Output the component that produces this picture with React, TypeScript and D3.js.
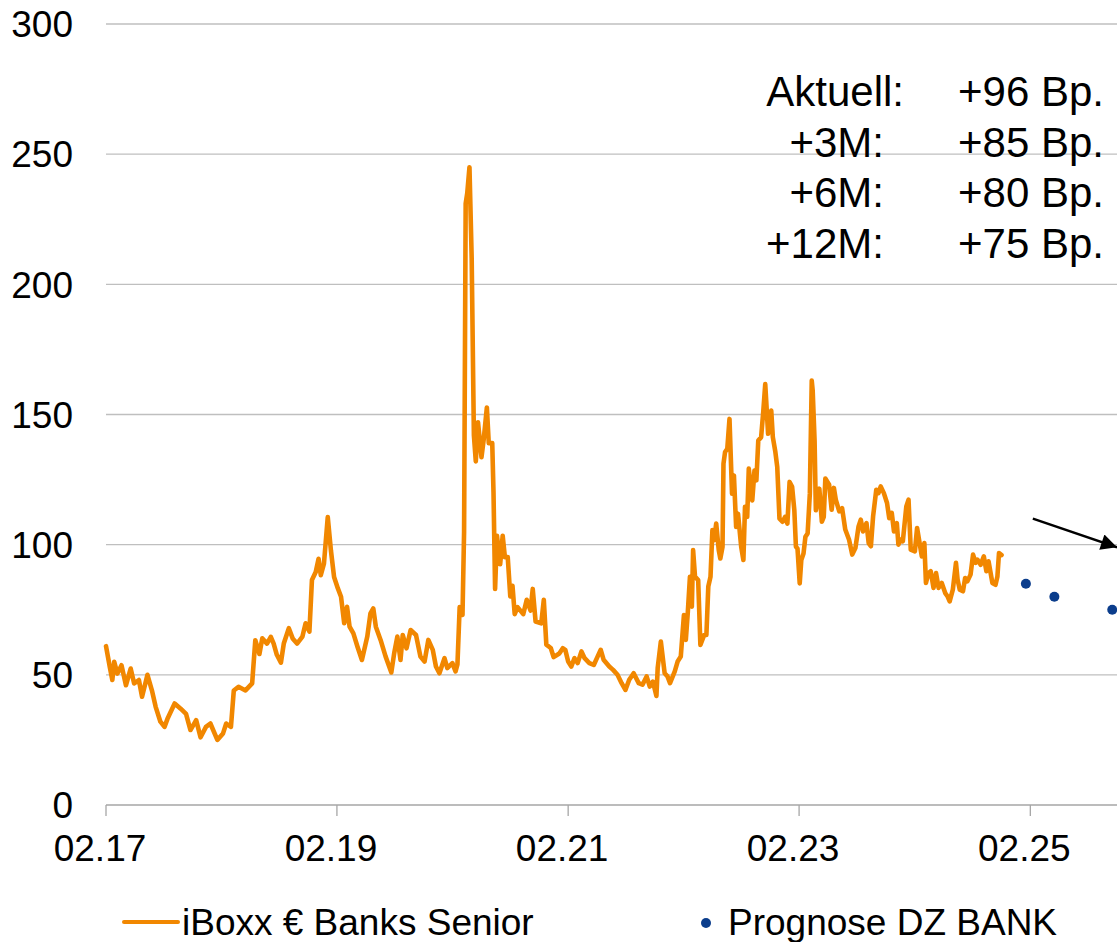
import React from 'react';
import * as d3 from 'd3';

// iBoxx € Banks Senior spread (Bp.)
const dates = [
  '2017-02-01', '2017-02-13', '2017-02-21', '2017-02-27', '2017-03-09', '2017-03-22', '2017-04-05', '2017-04-20',
  '2017-05-01', '2017-05-16', '2017-05-26', '2017-06-12', '2017-06-27', '2017-07-08', '2017-07-23', '2017-08-05',
  '2017-08-14', '2017-09-06', '2017-09-25', '2017-10-12', '2017-10-26', '2017-11-13', '2017-11-27', '2017-12-14',
  '2017-12-28', '2018-01-19', '2018-02-06', '2018-02-16', '2018-03-03', '2018-03-12', '2018-03-27', '2018-04-18',
  '2018-05-09', '2018-05-19', '2018-06-01', '2018-06-10', '2018-06-25', '2018-07-07', '2018-07-16', '2018-07-26',
  '2018-08-08', '2018-08-17', '2018-09-02', '2018-09-14', '2018-09-28', '2018-10-15', '2018-10-25', '2018-11-06',
  '2018-11-14', '2018-11-26', '2018-12-05', '2018-12-12', '2018-12-22', '2019-01-03', '2019-01-13', '2019-01-23',
  '2019-02-04', '2019-02-14', '2019-02-24', '2019-03-05', '2019-03-13', '2019-03-25', '2019-04-07', '2019-04-21',
  '2019-05-08', '2019-05-18', '2019-05-27', '2019-06-04', '2019-06-19', '2019-07-05', '2019-07-23', '2019-08-01',
  '2019-08-11', '2019-08-21', '2019-08-28', '2019-09-09', '2019-09-22', '2019-10-09', '2019-10-23', '2019-11-05',
  '2019-11-17', '2019-12-01', '2019-12-11', '2019-12-22', '2020-01-07', '2020-01-16', '2020-02-01', '2020-02-11',
  '2020-02-17', '2020-02-24', '2020-03-04', '2020-03-09', '2020-03-14', '2020-03-19', '2020-03-26', '2020-04-02',
  '2020-04-09', '2020-04-15', '2020-04-22', '2020-05-03', '2020-05-10', '2020-05-20', '2020-05-26', '2020-06-06',
  '2020-06-10', '2020-06-15', '2020-06-21', '2020-07-01', '2020-07-09', '2020-07-16', '2020-07-25', '2020-08-02',
  '2020-08-09', '2020-08-16', '2020-08-25', '2020-09-12', '2020-09-23', '2020-10-05', '2020-10-12', '2020-10-21',
  '2020-11-08', '2020-11-16', '2020-11-24', '2020-12-08', '2020-12-17', '2021-01-04', '2021-01-15', '2021-01-23',
  '2021-02-01', '2021-02-11', '2021-02-21', '2021-03-03', '2021-03-15', '2021-03-25', '2021-04-09', '2021-04-23',
  '2021-05-05', '2021-05-15', '2021-05-24', '2021-06-11', '2021-06-23', '2021-07-07', '2021-07-20', '2021-08-01',
  '2021-08-13', '2021-08-27', '2021-09-12', '2021-09-24', '2021-10-07', '2021-10-17', '2021-10-27', '2021-11-07',
  '2021-11-11', '2021-11-21', '2021-12-03', '2021-12-12', '2021-12-20', '2022-01-04', '2022-01-13', '2022-01-23',
  '2022-02-02', '2022-02-08', '2022-02-14', '2022-02-21', '2022-02-27', '2022-03-03', '2022-03-09', '2022-03-19',
  '2022-03-26', '2022-04-07', '2022-04-14', '2022-04-20', '2022-04-27', '2022-05-03', '2022-05-08', '2022-05-15',
  '2022-05-23', '2022-05-28', '2022-06-04', '2022-06-07', '2022-06-12', '2022-06-19', '2022-06-26', '2022-07-04',
  '2022-07-10', '2022-07-17', '2022-07-23', '2022-08-02', '2022-08-09', '2022-08-14', '2022-08-21', '2022-08-26',
  '2022-09-06', '2022-09-13', '2022-09-19', '2022-09-25', '2022-10-04', '2022-10-11', '2022-10-17', '2022-10-20',
  '2022-10-26', '2022-11-05', '2022-11-10', '2022-11-18', '2022-11-24', '2022-12-01', '2022-12-11', '2022-12-19',
  '2022-12-26', '2023-01-02', '2023-01-10', '2023-01-17', '2023-01-22', '2023-01-27', '2023-02-03', '2023-02-08',
  '2023-02-15', '2023-02-21', '2023-02-28', '2023-03-07', '2023-03-13', '2023-03-16', '2023-03-22', '2023-03-26',
  '2023-04-06', '2023-04-14', '2023-04-20', '2023-04-25', '2023-05-07', '2023-05-15', '2023-05-22', '2023-05-28',
  '2023-06-08', '2023-06-17', '2023-06-27', '2023-07-09', '2023-07-19', '2023-07-29', '2023-08-08', '2023-08-15',
  '2023-08-22', '2023-09-02', '2023-09-09', '2023-09-16', '2023-09-23', '2023-10-03', '2023-10-10', '2023-10-17',
  '2023-10-27', '2023-11-06', '2023-11-13', '2023-11-21', '2023-11-28', '2023-12-07', '2023-12-12', '2023-12-19',
  '2023-12-26', '2024-01-06', '2024-01-13', '2024-01-20', '2024-02-02', '2024-02-09', '2024-02-17', '2024-02-24',
  '2024-03-03', '2024-03-08', '2024-03-16', '2024-03-23', '2024-04-01', '2024-04-09', '2024-04-17', '2024-04-27',
  '2024-05-08', '2024-05-15', '2024-05-22', '2024-06-01', '2024-06-11', '2024-06-16', '2024-06-23', '2024-07-03',
  '2024-07-10', '2024-07-17', '2024-07-27', '2024-08-04', '2024-08-12', '2024-08-18', '2024-08-28', '2024-09-07',
  '2024-09-15', '2024-09-22', '2024-10-04', '2024-10-14', '2024-10-20', '2024-10-25', '2024-11-02',
];

const spreads = [
  61, 53, 48, 55, 50.5, 53.7, 46, 52.4,
  46.7, 48, 41.6, 50, 43.6, 37.7, 32, 30,
  33, 39, 37, 35, 28.8, 32.6, 26, 30,
  31.3, 25, 27.5, 31.3, 30, 44, 45.4, 44,
  46.7, 63.3, 58, 64, 62, 64.6, 62, 57.7,
  54.7, 62, 67.9, 64, 62, 64.7, 69.8, 66.6,
  86.4, 89.5, 94.6, 88.3, 92.7, 110.6, 97.8, 87.6,
  83.2, 80, 69.8, 76.1, 68.5, 65.9, 60.8, 55.7,
  64.7, 73.6, 75.5, 68.5, 63.4, 57, 50.9, 58.3,
  64.7, 55.7, 65.3, 60.2, 67.2, 65.3, 57, 55.1,
  63.4, 59.6, 53.2, 50.6, 56.4, 52.6, 54.5, 51.3,
  54, 76, 73, 105, 231, 235, 245, 210,
  142, 132, 147, 133.6, 140.4, 152.7, 139, 139,
  120, 83, 103.4, 92.5, 103.4, 95.2, 95.2, 80.1,
  84.2, 73.3, 76, 73.3, 78.8, 74.7, 83, 70.5,
  69.8, 78.8, 61.6, 60.3, 56.8, 58.2, 60.2, 59.6,
  55.1, 53.2, 56.4, 54.5, 59, 56.4, 54.5, 53.8,
  57, 59.6, 55.8, 53.2, 51.9, 50, 46.8, 44.2,
  48.1, 50.6, 46.8, 46.2, 49.4, 45.5, 47.4, 41.9,
  52.6, 62.8, 50.6, 49.4, 46.8, 51.3, 55.1, 57,
  73, 63.4, 73.6, 87.7, 76.2, 97.9, 87.7, 86.4,
  61.5, 65.3, 65.3, 83.9, 87.7, 105.6, 101.7, 108.1,
  97.9, 94.7, 99.2, 131.1, 135.6, 136.8, 148.3, 119.6,
  126.6, 106.8, 111.9, 99.2, 94.1, 114.5, 110.7, 129.2,
  117, 128.5, 124.7, 140, 141.3, 151.5, 161.7, 155.4,
  142.6, 151.5, 141.3, 135.6, 129.8, 110, 108.8, 110.7,
  108.1, 124.1, 122.2, 113.2, 99.2, 98.5, 85.1, 94.1,
  96.6, 103, 104.3, 119.6, 163, 159.2, 140, 113.2,
  121.5, 108.8, 110.7, 125.4, 123, 113.4, 121.8, 117.3,
  112.8, 114, 105.8, 101.9, 96.2, 98.7, 107, 109.6,
  105.1, 108.3, 100.6, 99.4, 110.9, 121.1, 119.8, 122.4,
  119.8, 116, 110.2, 112.2, 105.1, 108.3, 100, 101.9,
  101.3, 114.7, 117.3, 98.1, 97.4, 106.4, 100.6, 95.5,
  100.6, 85.3, 89.1, 89.8, 83.4, 89.1, 83.4, 85.3,
  81.4, 80.2, 78.2, 82.7, 93, 86.6, 82.7, 82.1,
  87.2, 85.9, 88.5, 96.2, 93, 94.2, 92.3, 95.5,
  89.8, 93.6, 85.3, 84.6, 87.8, 96.8, 96,
];

// Prognose DZ BANK
const forecastDates = ['2025-01-18', '2025-04-18', '2025-10-18'];
const forecastValues = [85, 80, 75];

const yTicks = [0, 50, 100, 150, 200, 250, 300];
const xTickDates = ['2017-02-01', '2019-02-01', '2021-02-01', '2023-02-01', '2025-02-01'];
const xDomainDates = ['2017-02-01', '2025-11-02'];

const summaryLabels = ['Aktuell:', '+3M:', '+6M:', '+12M:'];
const summaryValues = ['+96 Bp.', '+85 Bp.', '+80 Bp.', '+75 Bp.'];

const arrowDates = ['2025-02-09', '2025-11-02'];
const arrowValues = [110, 99];

const legendLabels = ['iBoxx € Banks Senior', 'Prognose DZ BANK'];

const ORANGE = '#F18700';
const BLUE = '#0B3D8C';
const FONT = '"Liberation Sans", Arial, Helvetica, sans-serif';

const parse = d3.timeParse('%Y-%m-%d');

export default function App() {
  const width = 1117;
  const height = 942;
  const margin = { top: 24, right: 0, bottom: 137, left: 106 };

  const x = d3.scaleTime()
    .domain(xDomainDates.map(d => parse(d) as Date))
    .range([margin.left, width - margin.right]);
  const y = d3.scaleLinear()
    .domain([0, 300])
    .range([height - margin.bottom, margin.top]);

  const series = dates.map((d, i) => ({ date: parse(d) as Date, value: spreads[i] }));
  const forecast = forecastDates.map((d, i) => ({ date: parse(d) as Date, value: forecastValues[i] }));

  const line = d3.line<{ date: Date; value: number }>()
    .x(d => x(d.date))
    .y(d => y(d.value));

  const fmt = d3.timeFormat('%m.%y');
  const y0 = y(0);

  const ax1 = x(parse(arrowDates[0]) as Date);
  const ay1 = y(arrowValues[0]);
  const ax2 = x(parse(arrowDates[1]) as Date);
  const ay2 = y(arrowValues[1]);

  return (
    <svg
      width={width}
      height={height}
      style={{ position: 'absolute', left: 0, top: 0, background: '#fff' }}
      fontFamily={FONT}
    >
      <defs>
        <marker id="arrowHead" viewBox="0 0 10 10" refX="10" refY="5" markerWidth="20" markerHeight="16"
          markerUnits="userSpaceOnUse" orient="auto">
          <path d="M0,0 L10,5 L0,10 Z" fill="#000" />
        </marker>
      </defs>

      {/* gridlines */}
      {yTicks.filter(t => t > 0).map(t => (
        <line key={t} x1={margin.left} x2={width} y1={y(t)} y2={y(t)} stroke="#BFBFBF" strokeWidth={1.3} />
      ))}

      {/* y labels */}
      {yTicks.map(t => (
        <text key={t} x={73} y={y(t)} dy="0.36em" textAnchor="end" fontSize={37} fill="#000">{t}</text>
      ))}

      {/* x axis */}
      <line x1={margin.left} x2={width} y1={y0} y2={y0} stroke="#A6A6A6" strokeWidth={1.3} />
      {xTickDates.map(d => {
        const px = x(parse(d) as Date);
        return (
          <g key={d}>
            <line x1={px} x2={px} y1={y0} y2={y0 + 11} stroke="#A6A6A6" strokeWidth={1.3} />
            <text x={px - 6} y={861} textAnchor="middle" fontSize={37} fill="#000">{fmt(parse(d) as Date)}</text>
          </g>
        );
      })}

      {/* series */}
      <path d={line(series) || ''} fill="none" stroke={ORANGE} strokeWidth={4.6} strokeLinejoin="round" strokeLinecap="round" />
      {forecast.map(d => (
        <circle key={+d.date} cx={x(d.date)} cy={y(d.value)} r={5} fill={BLUE} />
      ))}

      {/* arrow */}
      <line x1={ax1} y1={ay1} x2={ax2} y2={ay2} stroke="#000" strokeWidth={2.5} markerEnd="url(#arrowHead)" />

      {/* summary box */}
      {summaryLabels.map((lab, i) => (
        <g key={lab} fontSize={42} fill="#000">
          <text x={i === 0 ? 904 : 884} y={106 + i * 50.7} textAnchor="end">{lab}</text>
          <text x={1104} y={106 + i * 50.7} textAnchor="end">{summaryValues[i]}</text>
        </g>
      ))}

      {/* legend */}
      <line x1={124} x2={178} y1={922} y2={922} stroke={ORANGE} strokeWidth={4} strokeLinecap="round" />
      <text x={182} y={935} fontSize={37} fill="#000">{legendLabels[0]}</text>
      <circle cx={706} cy={923} r={5} fill={BLUE} />
      <text x={728} y={935} fontSize={37} fill="#000">{legendLabels[1]}</text>
    </svg>
  );
}
